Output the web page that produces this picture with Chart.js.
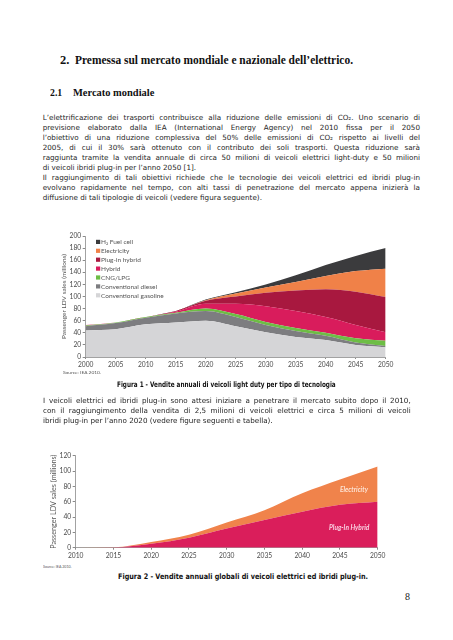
<!DOCTYPE html>
<html><head><meta charset="utf-8">
<script src="https://cdn.jsdelivr.net/npm/chart.js@4/dist/chart.umd.min.js"></script>
<style>
html,body{margin:0;padding:0;background:#fff;}
body{width:453px;height:640px;position:relative;overflow:hidden;}
.t{position:absolute;white-space:nowrap;line-height:1;}
.p{font-family:"DejaVu Sans",Verdana,sans-serif;font-size:7.2px;color:#262626;}
.h1{font-family:"Liberation Serif","DejaVu Serif",serif;font-weight:bold;font-size:12.5px;color:#111;}
.h2{font-family:"Liberation Serif","DejaVu Serif",serif;font-weight:bold;font-size:11px;color:#111;}
.cap{font-family:"Liberation Sans Narrow","DejaVu Sans Condensed","Liberation Sans",sans-serif;font-weight:bold;font-size:7.6px;color:#111;}
.src{font-family:Lato,"DejaVu Sans",sans-serif;font-size:4.6px;color:#555;}
.pg{font-family:"Liberation Serif",serif;font-size:10px;color:#222;}
canvas{position:absolute;}
#w1{position:absolute;left:30px;top:226px;width:370px;height:146px;}
#w2{position:absolute;left:20px;top:446px;width:370px;height:116px;}
</style></head>
<body>
<div id="w1"><canvas id="c1"></canvas></div>
<div id="w2"><canvas id="c2"></canvas></div>
<script>
// ---- Data: Figure 1 (passenger LDV sales by technology, millions) ----
const years1 = ['2000','2005','2010','2015','2020','2025','2030','2035','2040','2045','2050'];
const gasoline    = [44,46,54,57,60,51,41,33,28,20,16];
const diesel      = [7,10,11,15,16,15,12,10,7,4,2];
const cngLpg      = [1,1,1,1,4,5,5,5,5,7,9];
const hybrid      = [1,0,0,2,8,17,26,28,26,22,14];
const plugin1     = [0,0,0,1,5,12,22,34,46,55,58];
const electricity1= [0,0,0,0,1,5,9,14,22,34,47];
const fuelCell    = [0,0,0,0,1,2,5,11,18,25,34];
const yTicks1 = [0,20,40,60,80,100,120,140,160,180,200];

// ---- Data: Figure 2 (EV and PHEV sales, millions) ----
const years2 = ['2010','2015','2020','2025','2030','2035','2040','2045','2050'];
const plugin2      = [0,0.3,5,13,25,36,47,56,60];
const electricity2 = [0,0.2,2.5,4,8,13,24,33,46];
const yTicks2 = [0,20,40,60,80,100,120];

const axisTitle = 'Passenger LDV sales (millions)';

// ---- Page text ----
const texts = [
 {s:'2.', x:60, y:60.7, c:'h1'},
 {s:'Premessa sul mercato mondiale e nazionale dell’elettrico.', x:75.3, y:60.7, c:'h1', w:278},
 {s:'2.1', x:49.5, y:92.7, c:'h2', w:12.2},
 {s:'Mercato mondiale', x:72.7, y:92.7, c:'h2', w:81.3},
 {s:'L’elettrificazione dei trasporti contribuisce alla riduzione delle emissioni di CO₂. Uno scenario di', x:42.7, y:117.7, c:'p', w:377.3, j:1},
 {s:'previsione elaborato dalla IEA (International Energy Agency) nel 2010 fissa per il 2050', x:42.7, y:127.7, c:'p', w:377.3, j:1},
 {s:'l’obiettivo di una riduzione complessiva del 50% delle emissioni di CO₂ rispetto ai livelli del', x:42.7, y:137.7, c:'p', w:377.3, j:1},
 {s:'2005, di cui il 30% sarà ottenuto con il contributo dei soli trasporti. Questa riduzione sarà', x:42.7, y:147.7, c:'p', w:377.3, j:1},
 {s:'raggiunta tramite la vendita annuale di circa 50 milioni di veicoli elettrici light-duty e 50 milioni', x:42.7, y:157.7, c:'p', w:377.3, j:1},
 {s:'di veicoli ibridi plug-in per l’anno 2050 [1].', x:42.7, y:167.7, c:'p'},
 {s:'Il raggiungimento di tali obiettivi richiede che le tecnologie dei veicoli elettrici ed ibridi plug-in', x:42.7, y:177.7, c:'p', w:377.3, j:1},
 {s:'evolvano rapidamente nel tempo, con alti tassi di penetrazione del mercato appena inizierà la', x:42.7, y:187.7, c:'p', w:377.3, j:1},
 {s:'diffusione di tali tipologie di veicoli (vedere figura seguente).', x:42.7, y:197.7, c:'p'},
 {s:'Source: IEA 2010.', x:63, y:372.3, c:'src', w:38},
 {s:'Figura 1 - Vendite annuali di veicoli light duty per tipo di tecnologia', x:117.3, y:385, c:'cap', w:218.7},
 {s:'I veicoli elettrici ed ibridi plug-in sono attesi iniziare a penetrare il mercato subito dopo il 2010,', x:43, y:400, c:'p', w:367.7, j:1},
 {s:'con il raggiungimento della vendita di 2,5 milioni di veicoli elettrici e circa 5 milioni di veicoli', x:43, y:410, c:'p', w:367.7, j:1},
 {s:'ibridi plug-in per l’anno 2020 (vedere figure seguenti e tabella).', x:43, y:420, c:'p'},
 {s:'Source: IEA 2010.', x:43.3, y:566, c:'src', w:28.5},
 {s:'Figura 2 - Vendite annuali globali di veicoli elettrici ed ibridi plug-in.', x:118.3, y:576.7, c:'cap', w:250},
 {s:'8', x:405, y:597, c:'pg'}
];
texts.forEach(t=>{
  const el=document.createElement('div');
  el.className='t '+t.c; el.textContent=t.s;
  document.body.appendChild(el);
  const w=el.getBoundingClientRect().width, h=el.offsetHeight;
  el.style.left=t.x+'px'; el.style.top=(t.y-h/2)+'px';
  if(t.w){
    if(t.j){
      const n=t.s.split(' ').length-1;
      el.style.wordSpacing=((t.w-w)/n)+'px';
    } else {
      el.style.transformOrigin='left center';
      el.style.transform='scaleX('+(t.w/w)+')';
    }
  }
});

// ---- Plugins ----
const insideLegend = {
  id:'insideLegend',
  afterDatasetsDraw(chart, args, o){
    if(!o || !o.show) return;
    const ctx=chart.ctx, ds=chart.data.datasets;
    ctx.save(); ctx.font=o.font; ctx.textBaseline='middle'; ctx.textAlign='left';
    let y=o.y;
    for(let i=ds.length-1;i>=0;i--){
      ctx.fillStyle=ds[i].backgroundColor; ctx.fillRect(o.x, y-2.2, 4.2, 4.2);
      ctx.fillStyle=o.color; ctx.fillText(ds[i].label, o.x+5, y+0.3);
      y+=o.step;
    }
    ctx.restore();
  }
};
const areaLabels = {
  id:'areaLabels',
  afterDatasetsDraw(chart, args, o){
    if(!o || !o.items) return;
    const ctx=chart.ctx, xs=chart.scales.x, ys=chart.scales.y;
    ctx.save(); ctx.font=o.font; ctx.textAlign='right'; ctx.textBaseline='middle';
    o.items.forEach(it=>{
      const lab = chart.data.labels;
      const idx=(it.year-Number(lab[0]))/(Number(lab[1])-Number(lab[0]));
      ctx.fillStyle=it.color;
      ctx.fillText(it.text, xs.getPixelForValue(idx), ys.getPixelForValue(it.value));
    });
    ctx.restore();
  }
};

function ds(label, data, color, first){
  return {label, data, backgroundColor:color, borderWidth:0, pointRadius:0,
    fill:first?'origin':'-1', cubicInterpolationMode:'monotone'};
}
const tickFont={family:'Lato', size:6.7};
function scales(maxY, ticksArr, yw, xh, titlePad, titleSize){
  return {
    x:{type:'category', offset:false,
       grid:{drawOnChartArea:false, drawTicks:true, tickLength:2, color:'#8a8a8a'},
       border:{display:true, color:'#8a8a8a', width:0.8},
       ticks:{autoSkip:false, maxRotation:0, padding:2.3, color:'#4a4a4a', font:tickFont},
       afterFit(s){ s.height=xh; }},
    y:{stacked:true, min:0, max:maxY,
       afterBuildTicks(s){ s.ticks=ticksArr.map(v=>({value:v})); },
       grid:{drawOnChartArea:false, drawTicks:true, tickLength:3, color:'#8a8a8a'},
       border:{display:true, color:'#8a8a8a', width:0.8},
       ticks:{padding:1.5, color:'#4a4a4a', font:tickFont},
       title:{display:true, text:axisTitle, color:'#555', font:{family:'Lato', size:titleSize}, padding:{top:titlePad, bottom:0}},
       afterFit(s){ s.width=yw; }}
  };
}

new Chart(document.getElementById('c1'), {
  type:'line',
  data:{labels:years1, datasets:[
    ds('Conventional gasoline', gasoline, '#d5d5d7', true),
    ds('Conventional diesel', diesel, '#7d7d80'),
    ds('CNG/LPG', cngLpg, '#6dbd45'),
    ds('Hybrid', hybrid, '#d91c5c'),
    ds('Plug-in hybrid', plugin1, '#a8183f'),
    ds('Electricity', electricity1, '#f08148'),
    ds('H₂ Fuel cell', fuelCell, '#3b3b3d')
  ]},
  options:{responsive:true, maintainAspectRatio:false, animation:false,
    layout:{padding:{top:10, right:14.3, bottom:0, left:0}},
    elements:{line:{tension:0.4}},
    plugins:{legend:{display:false}, tooltip:{enabled:false},
      insideLegend:{show:true, x:66, y:16, step:8.9, font:'6.5px Lato', color:'#555'}},
    scales:scales(200, yTicks1, 55.7, 15, 30.5, 6.5)
  },
  plugins:[insideLegend]
});

new Chart(document.getElementById('c2'), {
  type:'line',
  data:{labels:years2, datasets:[
    ds('Plug-In Hybrid', plugin2, '#da1e5b', true),
    ds('Electricity', electricity2, '#f0834b')
  ]},
  options:{responsive:true, maintainAspectRatio:false, animation:false,
    layout:{padding:{top:9.7, right:12.3, bottom:0, left:0}},
    elements:{line:{tension:0.4}},
    plugins:{legend:{display:false}, tooltip:{enabled:false},
      areaLabels:{font:'italic bold 6.6px Lato', items:[
        {text:'Electricity', year:2048.7, value:75, color:'#fde2d2'},
        {text:'Plug-In Hybrid', year:2048.9, value:25.7, color:'#f9cfe0'}
      ]}},
    scales:scales(120, yTicks2, 55.7, 14.3, 29.5, 7.2)
  },
  plugins:[areaLabels]
});
</script>
</body></html>
